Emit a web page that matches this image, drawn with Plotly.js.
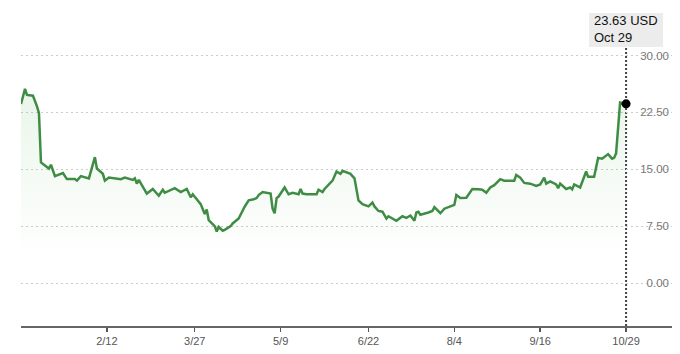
<!DOCTYPE html>
<html>
<head>
<meta charset="utf-8">
<script src="https://cdn.plot.ly/plotly-3.0.1.min.js"></script>
<style>
  html, body { margin: 0; padding: 0; background: #ffffff; }
  #chart { width: 680px; height: 354px; }
</style>
</head>
<body>
<div id="chart"></div>
<script>
// ---- Data ----
const dates = [
  "2023-12-31","2024-01-02","2024-01-03","2024-01-06","2024-01-08","2024-01-09","2024-01-10",
  "2024-01-14","2024-01-15","2024-01-16","2024-01-17","2024-01-21","2024-01-23","2024-01-27",
  "2024-01-28","2024-01-30","2024-02-01","2024-02-03","2024-02-06","2024-02-07","2024-02-10",
  "2024-02-11","2024-02-13","2024-02-16","2024-02-19","2024-02-21","2024-02-25","2024-02-26",
  "2024-02-27","2024-02-28","2024-03-03","2024-03-06","2024-03-09","2024-03-11","2024-03-12",
  "2024-03-17","2024-03-20","2024-03-23","2024-03-25","2024-03-26","2024-03-28","2024-03-30",
  "2024-04-01","2024-04-02","2024-04-03","2024-04-06","2024-04-07","2024-04-08","2024-04-10",
  "2024-04-11","2024-04-14","2024-04-15","2024-04-18","2024-04-19","2024-04-21","2024-04-23",
  "2024-04-25","2024-04-27","2024-04-28","2024-04-30","2024-05-04","2024-05-05","2024-05-06",
  "2024-05-07","2024-05-08","2024-05-11","2024-05-13","2024-05-15","2024-05-18","2024-05-19",
  "2024-05-20","2024-05-22","2024-05-27","2024-05-28","2024-05-30","2024-05-31","2024-06-03",
  "2024-06-04","2024-06-06","2024-06-08","2024-06-09","2024-06-13","2024-06-15","2024-06-17",
  "2024-06-19","2024-06-22","2024-06-24","2024-06-25","2024-06-27","2024-06-29","2024-07-01",
  "2024-07-02","2024-07-06","2024-07-09","2024-07-11","2024-07-13","2024-07-15","2024-07-16",
  "2024-07-17","2024-07-18","2024-07-22","2024-07-24","2024-07-25","2024-07-28","2024-07-30",
  "2024-08-01","2024-08-04","2024-08-05","2024-08-07","2024-08-10","2024-08-13","2024-08-16",
  "2024-08-18","2024-08-20","2024-08-22","2024-08-24","2024-08-27","2024-08-29","2024-09-03",
  "2024-09-04","2024-09-06","2024-09-08","2024-09-11","2024-09-14","2024-09-16","2024-09-18",
  "2024-09-19","2024-09-21","2024-09-24","2024-09-25","2024-09-26","2024-09-29","2024-10-01",
  "2024-10-02","2024-10-03","2024-10-06","2024-10-08","2024-10-09","2024-10-10","2024-10-13",
  "2024-10-15","2024-10-17","2024-10-20","2024-10-22","2024-10-23","2024-10-24","2024-10-26",
  "2024-10-29"
];
const prices = [
  23.6,25.6,24.8,24.7,23.3,22.4,15.9,
  15.1,15.6,14.8,14.1,14.5,13.7,13.7,
  13.5,14.1,14.0,13.8,16.6,15.1,14.4,
  13.5,13.9,13.8,13.7,13.9,13.6,13.8,
  13.1,13.6,11.8,12.4,11.5,12.3,11.9,
  12.5,12.0,12.4,11.3,11.7,11.0,10.4,
  9.1,9.7,8.3,7.5,6.8,7.4,6.9,
  7.0,7.5,7.85,8.5,9.1,10.06,10.9,
  11.0,11.2,11.6,12.0,11.8,9.8,9.2,
  11.2,11.4,12.6,11.7,11.9,11.7,12.4,
  11.8,11.7,11.7,12.3,12.0,12.4,13.2,
  13.5,14.7,14.4,14.8,14.4,13.8,10.9,
  10.4,10.1,10.6,10.1,9.5,9.4,8.5,
  8.8,8.2,8.8,8.6,8.9,8.2,9.3,
  9.4,9.0,9.3,9.5,10.0,9.2,9.8,
  10.0,10.3,11.6,11.2,11.25,12.4,12.35,
  12.3,11.9,12.6,12.9,13.7,13.5,13.5,
  14.25,13.9,13.2,13.1,12.8,13.0,13.9,
  13.1,13.4,13.0,12.5,13.1,12.4,12.6,
  12.35,13.0,12.6,14.0,14.7,14.0,14.0,
  16.5,16.4,17.0,16.4,16.5,17.1,23.8,
  23.63
];
const xTickDates  = ["2024-02-12","2024-03-27","2024-05-09","2024-06-22","2024-08-04","2024-09-16","2024-10-29"];
const xTickLabels = ["2/12","3/27","5/9","6/22","8/4","9/16","10/29"];
const yTickValues = [0, 7.5, 15, 22.5, 30];
const yTickLabels = ["0.00","7.50","15.00","22.50","30.00"];
const currency = "USD";

// ---- Chart ----
const lastDate = dates[dates.length - 1];
const lastVal = prices[prices.length - 1];
const monthNames = ["Jan","Feb","Mar","Apr","May","Jun","Jul","Aug","Sep","Oct","Nov","Dec"];
const ld = lastDate.split("-");
const lastLabel = monthNames[parseInt(ld[1], 10) - 1] + " " + parseInt(ld[2], 10);

const FONT = "Liberation Sans, Arial, Helvetica, sans-serif";
const GREEN = "#3f8d45";

const traces = [
  {
    x: dates, y: prices, type: "scatter", mode: "lines",
    line: { color: GREEN, width: 2.5, shape: "linear" },
    fill: "tozeroy",
    fillgradient: {
      type: "vertical", start: 3, stop: 26,
      colorscale: [[0, "rgba(90,175,90,0)"], [1, "rgba(90,175,90,0.13)"]]
    },
    hoverinfo: "skip"
  },
  {
    x: [lastDate], y: [lastVal], type: "scatter", mode: "markers",
    marker: { color: "#000000", size: 9 },
    hoverinfo: "skip"
  }
];

const layout = {
  width: 680, height: 354,
  margin: { l: 21, r: 8, t: 44, b: 28, pad: 0 },
  paper_bgcolor: "#ffffff", plot_bgcolor: "#ffffff",
  showlegend: false,
  font: { family: FONT, color: "#555" },
  xaxis: {
    type: "date",
    range: ["2023-12-31", "2024-11-21"],
    tickvals: xTickDates, ticktext: xTickLabels,
    ticks: "outside", ticklen: 4, tickwidth: 1.5, tickcolor: "#555",
    showline: true, linecolor: "#666", linewidth: 2,
    showgrid: false, zeroline: false,
    tickfont: { family: FONT, size: 11, color: "#555" },
    fixedrange: true
  },
  yaxis: {
    range: [-5.67, 31.52],
    side: "right", ticklabelposition: "inside",
    tickvals: yTickValues, ticktext: yTickLabels,
    ticks: "",
    showgrid: true, gridcolor: "#cccccc", gridwidth: 1, griddash: "2px,3px",
    zeroline: false, showline: false,
    tickfont: { family: FONT, size: 11.5, color: "#777" },
    fixedrange: true
  },
  shapes: [
    {
      type: "rect", layer: "between",
      xref: "x", xsizemode: "pixel", xanchor: lastDate, x0: -2, x1: 120,
      yref: "paper", y0: 0, y1: 1,
      fillcolor: "#ffffff", line: { width: 0 }
    },
    {
      type: "line", layer: "between",
      xref: "x", x0: lastDate, x1: lastDate,
      yref: "paper", y0: 0, y1: 1,
      line: { color: "#444", width: 2, dash: "2px,2px" }
    },
    {
      type: "rect", layer: "above",
      xref: "x", xsizemode: "pixel", xanchor: lastDate, x0: -37, x1: 37,
      yref: "paper", ysizemode: "pixel", yanchor: 1, y0: -3, y1: 31,
      fillcolor: "#ececec", line: { width: 0 }
    }
  ],
  annotations: [
    {
      xref: "x", x: lastDate, xanchor: "center",
      yref: "paper", y: 1, yanchor: "bottom", yshift: -3,
      text: lastVal.toFixed(2) + " " + currency + "<br>" + lastLabel,
      align: "left", showarrow: false,
      font: { family: FONT, size: 13, color: "#111" }
    }
  ]
};

Plotly.newPlot("chart", traces, layout, { displayModeBar: false, staticPlot: true });
</script>
</body>
</html>
